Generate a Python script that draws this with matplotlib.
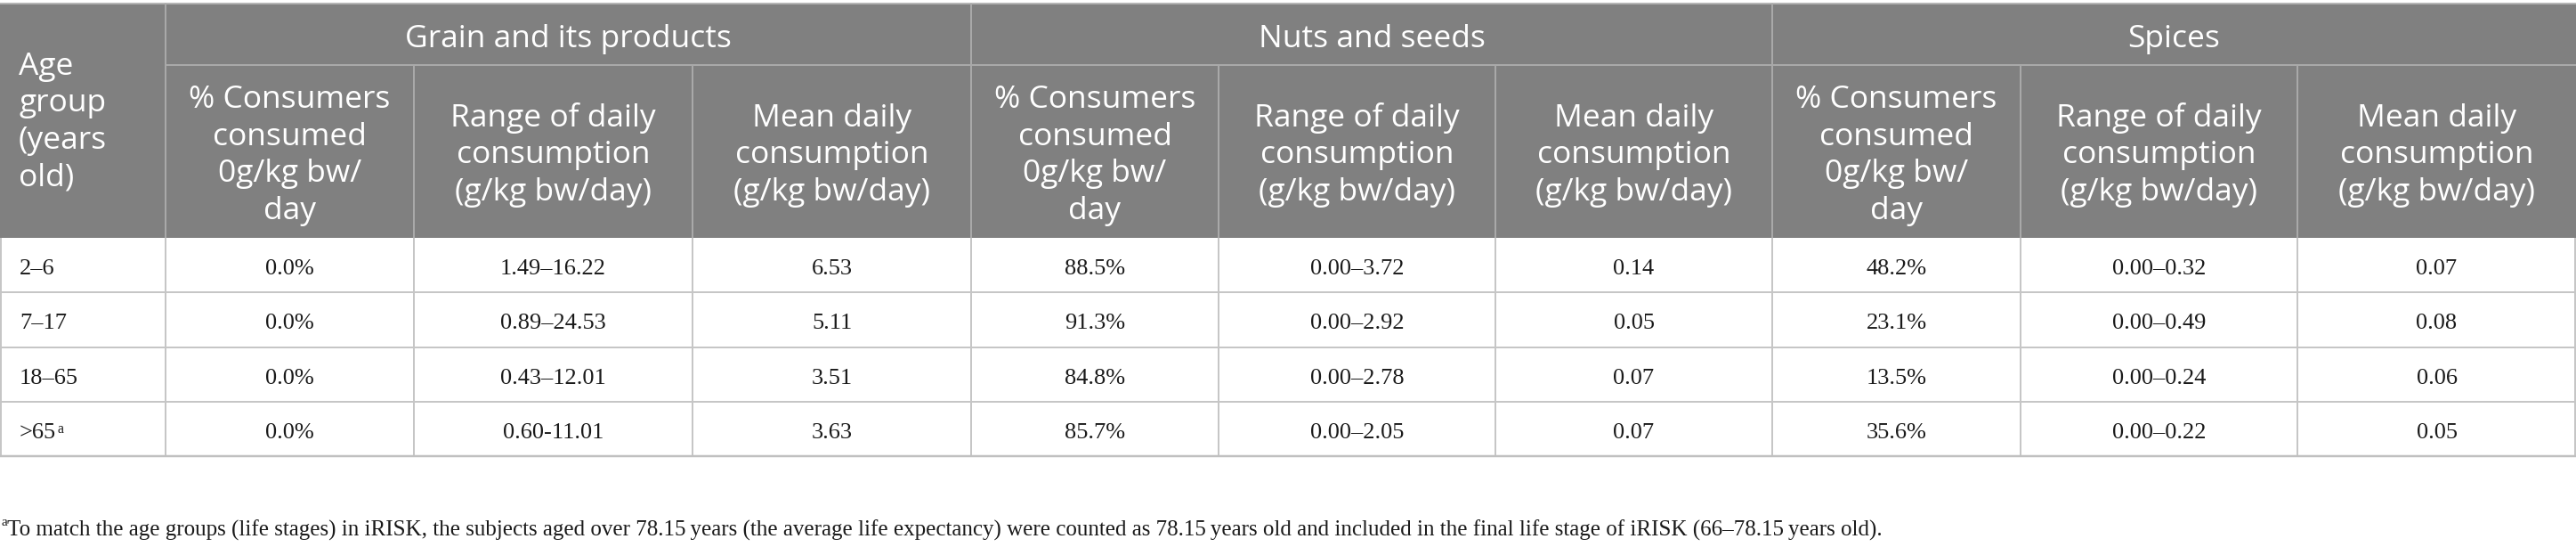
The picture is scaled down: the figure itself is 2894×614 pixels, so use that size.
import matplotlib
matplotlib.use("Agg")
import matplotlib.pyplot as plt
from matplotlib.patches import Rectangle

# ---------------- data ----------------
age_groups = ["2\u20136", "7\u201317", "18\u201365", ">65"]
age_sup = ["", "", "", "a"]

group_names = ["Grain and its products", "Nuts and seeds", "Spices"]
sub_headers = [
    ["% Consumers", "consumed", "0g/kg bw/", "day"],
    ["Range of daily", "consumption", "(g/kg bw/day)"],
    ["Mean daily", "consumption", "(g/kg bw/day)"],
]
age_header = ["Age", "group", "(years", "old)"]

grain_zero = ["0.0%", "0.0%", "0.0%", "0.0%"]
grain_range = ["1.49\u201316.22", "0.89\u201324.53", "0.43\u201312.01", "0.60-11.01"]
grain_mean = ["6.53", "5.11", "3.51", "3.63"]

nuts_zero = ["88.5%", "91.3%", "84.8%", "85.7%"]
nuts_range = ["0.00\u20133.72", "0.00\u20132.92", "0.00\u20132.78", "0.00\u20132.05"]
nuts_mean = ["0.14", "0.05", "0.07", "0.07"]

spice_zero = ["48.2%", "23.1%", "13.5%", "35.6%"]
spice_range = ["0.00\u20130.32", "0.00\u20130.49", "0.00\u20130.24", "0.00\u20130.22"]
spice_mean = ["0.07", "0.08", "0.06", "0.05"]

footnote = ("To match the age groups (life stages) in iRISK, the subjects aged over 78.15\u2009years "
            "(the average life expectancy) were counted as 78.15\u2009years old and included in the "
            "final life stage of iRISK (66\u201378.15\u2009years old).")

# ---------------- layout ----------------
W, H = 2894, 614
DPI = 100
col_edges = [0, 186, 465, 778, 1091, 1369, 1680, 1991, 2270, 2581, 2894]
y_top, y_group, y_head = 4, 73, 267
row_h = 61.3

HEAD_BG = "#808080"
HEAD_LINE = "#a9a9a9"
GRID = "#c6c6c6"
TXT = "#1a1a1a"
SANS = ["Open Sans", "DejaVu Sans"]
SERIF = ["Liberation Serif", "DejaVu Serif"]
PX = 0.72  # points per pixel at 100 dpi

fig = plt.figure(figsize=(W / DPI, H / DPI), dpi=DPI)
ax = fig.add_axes([0, 0, 1, 1])
ax.set_xlim(0, W)
ax.set_ylim(H, 0)
ax.axis("off")

n_rows = len(age_groups)
row_edges = [y_head + i * row_h for i in range(n_rows + 1)]
y_bot = row_edges[-1]

# header background
ax.add_patch(Rectangle((0, y_top), W, y_head - y_top, facecolor=HEAD_BG, edgecolor="none", zorder=1))

# top border
ax.plot([0, W], [y_top, y_top], color="#b4b4b4", lw=2 * PX, zorder=3, solid_capstyle="butt")
# group separator
ax.plot([col_edges[1], W], [y_group, y_group], color=HEAD_LINE, lw=2 * PX, zorder=3, solid_capstyle="butt")
# header verticals
for i, x in enumerate(col_edges[1:-1], start=1):
    top = y_top if (i - 1) % 3 == 0 else y_group
    ax.plot([x, x], [top, y_head], color=HEAD_LINE, lw=2 * PX, zorder=3, solid_capstyle="butt")

# data grid
for x in col_edges[1:-1]:
    ax.plot([x, x], [y_head, y_bot], color=GRID, lw=2 * PX, zorder=3, solid_capstyle="butt")
for x in (1, W - 1):
    ax.plot([x, x], [y_head, y_bot], color=GRID, lw=2 * PX, zorder=3, solid_capstyle="butt")
for y in row_edges[1:-1]:
    ax.plot([0, W], [y, y], color=GRID, lw=2 * PX, zorder=3, solid_capstyle="butt")
ax.plot([0, W], [y_bot, y_bot], color="#c0c0c0", lw=2.5 * PX, zorder=3, solid_capstyle="butt")

# header text
HFS = 25.5
pitch = 41.5
for j, line in enumerate(age_header):
    ax.text(21, 146 + (j - 1.5) * pitch, line, ha="left", va="baseline",
            fontsize=HFS, family=SANS, color="white", zorder=4)

for g, name in enumerate(group_names):
    x0 = col_edges[1 + 3 * g]
    x1 = col_edges[4 + 3 * g]
    ax.text((x0 + x1) / 2, 53, name, ha="center", va="baseline",
            fontsize=HFS, family=SANS, color="white", zorder=4)
    for k, lines in enumerate(sub_headers):
        cx = (col_edges[1 + 3 * g + k] + col_edges[2 + 3 * g + k]) / 2
        n = len(lines)
        for j, line in enumerate(lines):
            ax.text(cx, 183.4 + (j - (n - 1) / 2) * pitch, line, ha="center", va="baseline",
                    fontsize=HFS, family=SANS, color="white", zorder=4)

# body text
DFS = 19
columns = [grain_zero, grain_range, grain_mean,
           nuts_zero, nuts_range, nuts_mean,
           spice_zero, spice_range, spice_mean]
for r in range(n_rows):
    yb = row_edges[r] + 41
    t = ax.text(22, yb, age_groups[r], ha="left", va="baseline",
                fontsize=DFS, family=SERIF, color=TXT, zorder=4)
    if age_sup[r]:
        ax.annotate(age_sup[r], xy=(1, 1), xycoords=t, xytext=(1, 1), textcoords="offset points",
                    ha="left", va="top", fontsize=DFS * 0.6, family=SERIF, color=TXT)
    for c, col in enumerate(columns):
        cx = (col_edges[1 + c] + col_edges[2 + c]) / 2
        ax.text(cx, yb, col[r], ha="center", va="baseline",
                fontsize=DFS, family=SERIF, color=TXT, zorder=4)

# footnote
FFS = 18
ax.text(1, 590, "a", ha="left", va="baseline", fontsize=FFS * 0.6, family=SERIF, color=TXT)
ax.text(8, 602, footnote, ha="left", va="baseline", fontsize=FFS, family=SERIF, color=TXT)

fig.savefig("out.png", dpi=DPI, facecolor="white")
